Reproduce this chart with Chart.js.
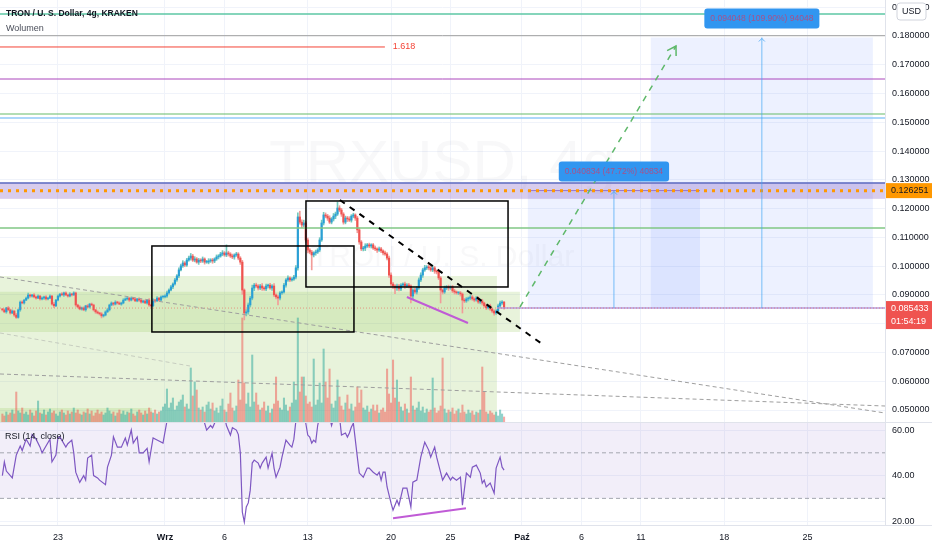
<!DOCTYPE html>
<html>
<head>
<meta charset="utf-8">
<title>TRXUSD 4g</title>
<script src="https://cdn.jsdelivr.net/npm/chart.js@4.4.1/dist/chart.umd.min.js"></script>
<style>
  html, body { margin: 0; padding: 0; background: #fff; }
  #wrap { position: relative; width: 932px; height: 550px; overflow: hidden; }
  #priceCanvas { position: absolute; left: 0; top: 0; }
  #rsiCanvas { position: absolute; left: 0; top: 422px; }
</style>
</head>
<body>
<div id="wrap">
  <canvas id="priceCanvas" width="932" height="422"></canvas>
  <canvas id="rsiCanvas" width="932" height="128"></canvas>
</div>
<script>
// x axis counts 4h candles, candle 0 = 18 Aug 08:00
const dayTicks = [28, 82, 112, 154, 196, 226, 262, 292, 322, 364, 406];
const dayLabels = ['23', 'Wrz', '6', '13', '20', '25', 'Paź', '6', '11', '18', '25'];
const monthLabels = ['Wrz', 'Paź'];
const priceTicks = [0.05, 0.06, 0.07, 0.08, 0.09, 0.10, 0.11, 0.12, 0.13, 0.14, 0.15, 0.16, 0.17, 0.18, 0.19];
const rsiTicks = [20, 40, 60];

// prices in 0.0001 USD
const firstOpen = 850;
const closeE4 = [
  848, 841, 855, 848, 837, 844, 830, 822, 848, 875,
  872, 882, 889, 900, 896, 900, 893, 889, 896, 886,
  889, 893, 886, 889, 896, 868, 862, 882, 896, 903,
  900, 907, 900, 896, 903, 900, 907, 865, 858, 851,
  855, 848, 862, 858, 868, 865, 848, 841, 837, 834,
  827, 830, 841, 848, 865, 872, 868, 875, 872, 868,
  872, 882, 886, 889, 882, 889, 886, 879, 886, 882,
  875, 879, 872, 882, 865, 862, 882, 879, 889, 882,
  893, 893, 896, 907, 917, 928, 938, 952, 966, 987,
  1001, 1011, 1004, 1021, 1028, 1035, 1021, 1025, 1014, 1021,
  1018, 1025, 1014, 1014, 1018, 1021, 1018, 1025, 1032, 1035,
  1042, 1046, 1039, 1046, 1042, 1035, 1032, 1039, 1042, 1028,
  1014, 917, 837, 841, 865, 889, 924, 934, 931, 924,
  931, 924, 921, 931, 934, 924, 931, 900, 893, 889,
  907, 910, 934, 952, 959, 952, 955, 962, 994, 1171,
  1153, 1143, 1150, 1091, 1056, 1049, 1039, 1046, 1049, 1056,
  1091, 1150, 1178, 1174, 1167, 1153, 1164, 1174, 1181, 1202,
  1195, 1181, 1153, 1167, 1164, 1160, 1174, 1178, 1167, 1126,
  1084, 1060, 1063, 1070, 1074, 1070, 1074, 1063, 1060, 1056,
  1060, 1053, 1046, 1042, 1028, 969, 938, 931, 924, 931,
  921, 934, 938, 931, 934, 931, 896, 917, 910, 924,
  952, 969, 987, 994, 997, 994, 987, 994, 983, 980,
  959, 917, 910, 924, 928, 924, 928, 914, 910, 907,
  907, 903, 882, 879, 886, 889, 893, 886, 882, 889,
  875, 879, 872, 862, 855, 862, 851, 844, 837, 844,
  862, 872, 875, 854.33
];
const wickUp = [
  3, 4, 2, 5, 3, 4, 2, 6, 3, 4, 5, 3, 4, 6, 3, 2, 5, 3, 4, 3,
  4, 3, 5, 2, 4, 3, 6, 3, 4, 2, 5, 3, 4, 3, 5, 2, 4, 3, 3, 5,
  3, 4, 2, 5, 3, 4, 3, 2, 4, 3, 5, 3, 4, 6, 3, 4, 2, 5, 3, 4,
  3, 5, 4, 2, 3, 4, 3, 5, 2, 4, 3, 3, 4, 2, 5, 3, 4, 3, 5, 3,
  4, 3, 5, 6, 4, 5, 4, 6, 5, 7, 6, 8, 5, 6, 7, 9, 6, 8, 5, 6,
  5, 7, 4, 6, 8, 5, 6, 4, 7, 5, 6, 8, 5, 28, 6, 5, 7, 4, 6, 5,
  5, 6, 4, 8, 7, 6, 10, 6, 7, 5, 6, 8, 5, 7, 4, 6, 5, 8, 4, 6,
  5, 4, 6, 5, 7, 4, 5, 6, 8, 14, 20, 8, 10, 6, 7, 5, 6, 4, 7, 5,
  8, 10, 9, 7, 6, 8, 5, 9, 7, 21, 8, 6, 5, 7, 6, 8, 5, 6, 4, 6,
  7, 5, 6, 8, 5, 6, 4, 5, 7, 4, 6, 5, 4, 6, 5, 7, 8, 6, 5, 7,
  6, 5, 4, 7, 5, 6, 4, 5, 6, 5, 7, 8, 6, 9, 5, 7, 6, 8, 5, 4,
  6, 5, 4, 7, 5, 6, 4, 5, 6, 4, 3, 5, 4, 6, 5, 4, 7, 5, 4, 6,
  5, 4, 6, 3, 5, 4, 6, 3, 4, 5, 6, 7, 5, 3
];
const wickDn = [
  4, 3, 5, 3, 4, 2, 5, 4, 3, 5, 3, 4, 2, 3, 5, 4, 3, 4, 2, 4,
  3, 5, 4, 3, 2, 4, 6, 3, 3, 4, 2, 5, 3, 4, 3, 4, 2, 5, 4, 3,
  4, 3, 5, 3, 4, 2, 4, 5, 3, 4, 7, 4, 3, 2, 4, 3, 5, 3, 4, 2,
  4, 3, 2, 4, 5, 3, 4, 2, 3, 5, 4, 3, 2, 4, 5, 4, 3, 5, 2, 4,
  3, 4, 3, 5, 4, 3, 6, 4, 5, 6, 4, 5, 6, 5, 4, 7, 5, 6, 4, 8,
  6, 5, 7, 4, 6, 5, 8, 6, 5, 7, 4, 6, 5, 6, 7, 5, 6, 8, 5, 6,
  8, 15, 24, 10, 8, 7, 6, 9, 5, 7, 6, 8, 5, 6, 7, 5, 8, 6, 7, 24,
  6, 5, 4, 7, 5, 6, 4, 5, 6, 8, 7, 9, 6, 8, 10, 6, 52, 7, 8, 5,
  6, 5, 7, 6, 8, 5, 6, 7, 9, 5, 6, 8, 7, 6, 9, 5, 7, 6, 8, 10,
  8, 6, 7, 9, 5, 6, 7, 5, 6, 8, 5, 6, 7, 5, 6, 8, 7, 9, 20, 8,
  7, 6, 5, 8, 6, 7, 24, 9, 6, 7, 5, 6, 8, 5, 6, 7, 5, 6, 8, 7,
  6, 45, 7, 5, 6, 8, 5, 6, 7, 5, 6, 7, 45, 6, 5, 7, 6, 5, 6, 4,
  5, 6, 7, 5, 6, 4, 5, 6, 7, 5, 4, 6, 5, 4
];
// volume in millions of TRX
const volume = [
  8, 6, 10, 7, 9, 12, 8, 30, 11, 9, 14, 8, 10, 7, 12, 9, 6, 11, 21, 9,
  8, 12, 7, 10, 13, 9, 11, 8, 6, 10, 12, 9, 7, 11, 8, 10, 14, 9, 12, 8,
  7, 10, 9, 13, 8, 11, 6, 9, 12, 8, 10, 7, 9, 14, 11, 8, 10, 6, 9, 12,
  8, 11, 7, 10, 9, 13, 8, 6, 10, 12, 9, 7, 11, 8, 14, 10, 9, 12, 8, 10,
  11, 15, 18, 33, 14, 19, 24, 12, 16, 20, 22, 27, 15, 18, 13, 54, 26, 40, 32, 14,
  12, 15, 10, 17, 20, 13, 19, 11, 14, 9, 16, 23, 12, 10, 18, 29, 14, 11, 16, 42,
  22, 104, 39, 18, 29, 15, 67, 20, 29, 17, 12, 14, 20, 11, 16, 9, 13, 18, 45, 21,
  14, 12, 24, 17, 11, 15, 19, 40, 22, 104, 30, 45, 45, 26, 18, 20, 15, 63, 17, 22,
  39, 19, 73, 40, 24, 53, 18, 14, 21, 42, 25, 16, 12, 19, 27, 13, 18, 11, 15, 35,
  19, 32, 14, 12, 16, 10, 13, 17, 11, 17, 9, 12, 14, 10, 53, 28, 19, 62, 24, 42,
  20, 15, 11, 18, 13, 9, 45, 16, 12, 14, 20, 11, 15, 9, 13, 10, 12, 44, 14, 9,
  11, 16, 64, 13, 9, 12, 10, 14, 8, 11, 13, 9, 17, 10, 8, 12, 9, 11, 7, 10,
  9, 12, 55, 30, 10, 8, 11, 9, 7, 10, 6, 12, 8, 5
];
// [candle, RSI]
const rsiPoints = [
  [0, 40], [1, 46], [2, 42], [4, 40], [5, 39], [7, 49], [9, 53], [10, 51], [12, 56], [14, 53],
  [15, 58], [17, 56], [19, 52.5], [20, 50], [22, 53], [24, 56], [25, 46], [27, 49], [28, 56.5], [29, 57],
  [32, 52.5], [33, 54], [35, 55.6], [36, 50], [37, 41.5], [39, 37], [41, 40], [42, 38], [43, 47.7], [45, 49],
  [46, 40], [48, 39], [49, 38], [52, 36], [53, 43.7], [55, 49], [56, 57], [58, 52.5], [60, 52.5], [62, 56.5],
  [63, 53.4], [65, 60], [66, 54.3], [68, 57], [69, 50], [71, 50], [73, 52], [74, 46], [76, 56.5], [78, 55.6],
  [81, 54.3], [83, 64], [84, 68], [86, 72], [88, 78], [90, 82], [92, 78], [94, 80], [96, 74], [98, 70],
  [100, 68], [101, 66], [103, 60], [105, 62], [106, 61], [108, 65], [110, 68], [112, 66], [113, 62], [115, 57.8],
  [116, 61], [118, 60], [119, 58], [120, 50], [121, 24], [122, 19.6], [123, 26.2], [124, 28], [125, 33.6], [126, 45.5],
  [127, 46.8], [129, 45.5], [130, 43.3], [131, 45.5], [133, 48.1], [134, 43.3], [136, 49.9], [137, 43.3], [138, 39.3], [140, 43.7],
  [141, 48.1], [143, 55.6], [145, 53.4], [146, 52.5], [147, 56], [148, 64], [149, 82], [150, 76], [151, 72], [152, 70],
  [153, 63], [154, 57.8], [155, 56.9], [156, 54.3], [157, 55.6], [158, 54.7], [159, 62], [160, 66], [161, 72], [162, 75],
  [163, 73], [164, 70], [165, 66], [166, 62], [167, 65], [168, 66], [169, 70], [170, 66], [171, 57.8], [173, 58.7],
  [174, 56.9], [175, 58.7], [176, 61.3], [177, 63], [179, 48.1], [180, 41.1], [182, 39.3], [184, 43.3], [185, 43.3], [187, 41.5],
  [189, 40.2], [190, 41.5], [191, 38], [192, 41.5], [193, 41.5], [194, 35], [196, 27.9], [197, 24.8], [199, 29.2], [200, 27],
  [202, 34.5], [204, 34.5], [206, 26.2], [207, 37.1], [209, 38], [211, 48.1], [213, 54.7], [215, 51.2], [216, 48.1], [218, 52.5],
  [219, 48.1], [222, 38], [224, 41.1], [226, 38], [227, 39.3], [229, 38], [231, 39.3], [232, 27], [234, 41.1], [236, 39.3],
  [237, 43.7], [239, 44.6], [241, 41.1], [242, 36.7], [243, 38], [244, 35], [246, 36.7], [248, 32.3], [249, 43.3], [251, 48.1],
  [252, 43.7], [253, 42.4]
];

const lastPrice = 0.085433;
const target1 = 0.040834;
const target2 = 0.094048;

// ---- view ----
const X_MIN = -1.2, X_MAX = 445.1;
const P_MIN = 0.04583, P_MAX = 0.19251;
const R_MIN = 18.3, R_MAX = 63.1;
const FONT = "'Liberation Sans', Arial, sans-serif";
const UP = '#2a9fd6', DOWN = '#ef5350', UP_WICK = '#74c9bc', DOWN_WICK = '#f29c99';
const GREEN_ZONE = 'rgba(139,195,74,0.2)', BLUE_ZONE = 'rgba(41,98,255,0.085)';

Chart.defaults.font.family = FONT;
Chart.defaults.font.size = 9;
Chart.defaults.color = '#131722';

const candles = closeE4.map((c, i) => {
  const o = i ? closeE4[i - 1] : firstOpen;
  return {
    o: o / 1e4,
    c: c / 1e4,
    h: (Math.max(o, c) + (wickUp[i] || 0)) / 1e4,
    l: (Math.min(o, c) - (wickDn[i] || 0)) / 1e4
  };
});
const isUp = candles.map(k => k.c >= k.o);

// drawings, in chart units
const zones = [
  { from: X_MIN, to: 249.4, lo: P_MIN, hi: 0.09658, fill: GREEN_ZONE },
  { from: X_MIN, to: 261, lo: 0.07712, hi: 0.0911, fill: GREEN_ZONE },
  { from: X_MIN, to: 75.4, lo: P_MIN, hi: 0.0507, fill: GREEN_ZONE },
  { from: 265, to: 351.8, lo: lastPrice, hi: lastPrice + target1, fill: BLUE_ZONE },
  { from: 327, to: 439, lo: lastPrice, hi: lastPrice + target2, fill: BLUE_ZONE },
  { from: X_MIN, to: X_MAX, lo: 0.1234, hi: 0.129, fill: 'rgba(126,87,194,0.3)' }
];
const levels = [
  { p: 0.18765, color: '#5cc7a5', w: 1.5 },
  { p: 0.1801, color: '#9e9e9e', w: 1 },
  { p: 0.17618, color: '#f44336', w: 1, to: 192.9 },
  { p: 0.16505, color: '#ab47bc', w: 1 },
  { p: 0.15289, color: '#66bb6a', w: 1.2 },
  { p: 0.1515, color: '#90caf9', w: 1.5 },
  { p: 0.1289, color: '#5c6bc0', w: 1.5 },
  { p: 0.11329, color: '#81c784', w: 1.5 },
  { p: lastPrice, color: '#b39ddb', w: 1.5, from: 249.4 },
  { p: lastPrice, color: 'rgba(239,83,80,0.55)', w: 1, dash: [1, 2] },
  { p: lastPrice + target1, color: '#9575cd', w: 1, from: 265, to: 351.8 },
  { p: 0.126251, color: '#ff9800', w: 3, dash: [3, 5] }
];
const trends = [
  { a: [X_MIN, 0.09624], b: [X_MAX, 0.04896], color: '#9e9e9e', w: 1, dash: [4, 3] },
  { a: [X_MIN, 0.06252], b: [X_MAX, 0.05139], color: '#9e9e9e', w: 1, dash: [4, 3] },
  { a: [X_MIN, 0.07677], b: [94.6, 0.0653], color: 'rgba(158,158,158,0.45)', w: 1, dash: [4, 3] },
  { a: [170.2, 0.123], b: [273.6, 0.07225], color: '#000000', w: 2, dash: [6, 6] },
  { a: [204, 0.08928], b: [234.8, 0.08024], color: '#c05bd6', w: 2 },
  { a: [261, 0.0858], b: [339.7, 0.17652], color: '#5fb86a', w: 1.5, dash: [6, 6], arrow: true }
];
const boxes = [
  { from: 75.4, to: 177.3, lo: 0.07712, hi: 0.10701 },
  { from: 153.1, to: 255, lo: 0.09276, hi: 0.12265 }
];
const measures = [
  { at: 308.4, lo: lastPrice, hi: lastPrice + target1, text: '0.040834 (47.72%) 40834' },
  { at: 383, lo: lastPrice, hi: lastPrice + target2, text: '0.094048 (109.90%) 94048' }
];

function stroke(ctx, pts, color, width, dash) {
  ctx.save();
  ctx.strokeStyle = color;
  ctx.lineWidth = width;
  ctx.setLineDash(dash || []);
  ctx.beginPath();
  pts.forEach((p, k) => k ? ctx.lineTo(p[0], p[1]) : ctx.moveTo(p[0], p[1]));
  ctx.stroke();
  ctx.restore();
}

function roundRect(ctx, x, y, w, h, r) {
  ctx.beginPath();
  ctx.moveTo(x + r, y);
  ctx.arcTo(x + w, y, x + w, y + h, r);
  ctx.arcTo(x + w, y + h, x, y + h, r);
  ctx.arcTo(x, y + h, x, y, r);
  ctx.arcTo(x, y, x + w, y, r);
  ctx.closePath();
}

const pricePane = {
  id: 'pricePane',
  beforeDatasetsDraw(chart) {
    const { ctx, chartArea: a, scales: { x, y } } = chart;
    ctx.save();
    ctx.beginPath();
    ctx.rect(a.left, a.top, a.width, a.height);
    ctx.clip();
    // watermark
    const cx = (a.left + a.right) / 2, cy = (a.top + a.bottom) / 2;
    ctx.fillStyle = 'rgba(120,123,134,0.05)';
    ctx.textAlign = 'center';
    ctx.textBaseline = 'middle';
    ctx.font = '60px ' + FONT;
    ctx.fillText('TRXUSD, 4g', cx, cy - 46);
    ctx.font = '30px ' + FONT;
    ctx.fillText('TRON / U. S. Dollar', cx, cy + 47);
    zones.forEach(z => {
      const x1 = x.getPixelForValue(z.from), x2 = x.getPixelForValue(z.to);
      const y1 = y.getPixelForValue(z.hi), y2 = y.getPixelForValue(z.lo);
      ctx.fillStyle = z.fill;
      ctx.fillRect(x1, y1, x2 - x1, y2 - y1);
    });
    ctx.restore();
  },
  afterDatasetsDraw(chart) {
    const { ctx, chartArea: a, scales: { x, y } } = chart;
    ctx.save();
    ctx.beginPath();
    ctx.rect(a.left, a.top, a.width, a.height);
    ctx.clip();

    levels.forEach(l => {
      const py = y.getPixelForValue(l.p);
      const x1 = x.getPixelForValue(l.from ?? X_MIN), x2 = x.getPixelForValue(l.to ?? X_MAX);
      stroke(ctx, [[x1, py], [x2, py]], l.color, l.w, l.dash);
    });

    // fib label
    ctx.fillStyle = '#f44336';
    ctx.font = '9px ' + FONT;
    ctx.textAlign = 'left';
    ctx.textBaseline = 'middle';
    ctx.fillText('1.618', x.getPixelForValue(196.8), y.getPixelForValue(0.17618));

    // measure lines
    measures.forEach(m => {
      const px = x.getPixelForValue(m.at);
      const top = y.getPixelForValue(m.hi), bot = y.getPixelForValue(m.lo);
      stroke(ctx, [[px, bot], [px, top]], 'rgba(66,165,245,0.7)', 1);
      stroke(ctx, [[px - 3, top + 4], [px, top + 1], [px + 3, top + 4]], 'rgba(66,165,245,0.8)', 1);
    });

    trends.forEach(t => {
      const x1 = x.getPixelForValue(t.a[0]), y1 = y.getPixelForValue(t.a[1]);
      const x2 = x.getPixelForValue(t.b[0]), y2 = y.getPixelForValue(t.b[1]);
      stroke(ctx, [[x1, y1], [x2, y2]], t.color, t.w, t.dash);
      if (t.arrow) {
        const ang = Math.atan2(y2 - y1, x2 - x1) + Math.PI;
        stroke(ctx, [[x2 + 10 * Math.cos(ang - 0.55), y2 + 10 * Math.sin(ang - 0.55)], [x2, y2],
          [x2 + 10 * Math.cos(ang + 0.55), y2 + 10 * Math.sin(ang + 0.55)]], t.color, t.w);
      }
    });

    boxes.forEach(b => {
      const x1 = x.getPixelForValue(b.from), x2 = x.getPixelForValue(b.to);
      const y1 = y.getPixelForValue(b.hi), y2 = y.getPixelForValue(b.lo);
      ctx.strokeStyle = '#000';
      ctx.lineWidth = 1.5;
      ctx.strokeRect(x1, y1, x2 - x1, y2 - y1);
    });

    // measure labels
    ctx.font = '8.5px ' + FONT;
    ctx.textAlign = 'center';
    measures.forEach(m => {
      const px = x.getPixelForValue(m.at);
      const top = y.getPixelForValue(m.hi);
      const w = ctx.measureText(m.text).width + 12;
      ctx.fillStyle = '#3196f0';
      roundRect(ctx, px - w / 2, top - 29, w, 20, 3);
      ctx.fill();
      ctx.fillStyle = '#a5538c';
      ctx.fillText(m.text, px, top - 19);
    });
    ctx.restore();
  },
  afterDraw(chart) {
    const { ctx, scales: { y } } = chart;
    ctx.save();
    ctx.textBaseline = 'middle';
    ctx.textAlign = 'left';
    // orange level tag
    const yo = y.getPixelForValue(0.126251);
    ctx.fillStyle = '#ff9800';
    ctx.fillRect(886, yo - 7.5, 46, 15);
    ctx.fillStyle = '#131722';
    ctx.font = '9px ' + FONT;
    ctx.fillText('0.126251', 891, yo);
    // last price tag
    const yl = y.getPixelForValue(lastPrice);
    ctx.fillStyle = '#ef5350';
    ctx.fillRect(886, yl - 7, 46, 28);
    ctx.fillStyle = '#ffffff';
    ctx.fillText(lastPrice.toFixed(6), 891, yl + 0.5);
    ctx.fillText('01:54:19', 891, yl + 13.5);
    // currency badge
    ctx.fillStyle = '#ffffff';
    roundRect(ctx, 897, 3, 29, 17, 3);
    ctx.fill();
    ctx.strokeStyle = '#d1d4dc';
    ctx.lineWidth = 1;
    ctx.stroke();
    ctx.fillStyle = '#131722';
    ctx.textAlign = 'center';
    ctx.fillText('USD', 911.5, 12);
    // legend
    ctx.textAlign = 'left';
    ctx.font = 'bold 8.5px ' + FONT;
    ctx.fillText('TRON / U. S. Dollar, 4g, KRAKEN', 6, 14);
    ctx.font = '9px ' + FONT;
    ctx.fillStyle = '#4a4e5a';
    ctx.fillText('Wolumen', 6, 29);
    ctx.restore();
  }
};

const rsiPane = {
  id: 'rsiPane',
  beforeDatasetsDraw(chart) {
    const { ctx, chartArea: a, scales: { y } } = chart;
    ctx.save();
    const y30 = y.getPixelForValue(30);
    const top = Math.max(a.top, y.getPixelForValue(70));
    ctx.fillStyle = 'rgba(126,87,194,0.1)';
    ctx.fillRect(a.left, top, a.width, y30 - top);
    [50, 30].forEach(v => {
      const py = y.getPixelForValue(v);
      stroke(ctx, [[a.left, py], [a.right, py]], '#a3a6af', 1, [4, 3]);
    });
    ctx.restore();
  },
  afterDatasetsDraw(chart) {
    const { ctx, scales: { x, y } } = chart;
    stroke(ctx, [[x.getPixelForValue(197), y.getPixelForValue(21.3)],
      [x.getPixelForValue(233.8), y.getPixelForValue(25.7)]], '#c05bd6', 2);
  },
  afterDraw(chart) {
    const { ctx, chartArea: a } = chart;
    ctx.save();
    stroke(ctx, [[0, 0.5], [932, 0.5]], '#e0e3eb', 1);
    stroke(ctx, [[0, a.bottom + 0.5], [932, a.bottom + 0.5]], '#e0e3eb', 1);
    ctx.fillStyle = '#131722';
    ctx.font = '9px ' + FONT;
    ctx.textAlign = 'left';
    ctx.textBaseline = 'middle';
    ctx.fillText('RSI (14, close)', 5, 15);
    ctx.restore();
  }
};

const noPad = s => { s.paddingTop = 0; s.paddingBottom = 0; s.paddingLeft = 0; s.paddingRight = 0; };

new Chart(document.getElementById('priceCanvas'), {
  type: 'bar',
  data: {
    datasets: [
      {
        yAxisID: 'yv', order: 3, grouped: false, barThickness: 1.4,
        data: volume.map((v, i) => ({ x: i, y: v })),
        backgroundColor: isUp.map(u => u ? 'rgba(38,166,154,0.5)' : 'rgba(239,83,80,0.5)')
      },
      {
        yAxisID: 'y', order: 2, grouped: false, barThickness: 1,
        data: candles.map((k, i) => ({ x: i, y: [k.l, k.h] })),
        backgroundColor: isUp.map(u => u ? UP_WICK : DOWN_WICK)
      },
      {
        yAxisID: 'y', order: 1, grouped: false, barThickness: 1.5, minBarLength: 1,
        data: candles.map((k, i) => ({ x: i, y: [k.o, k.c] })),
        backgroundColor: isUp.map(u => u ? UP : DOWN)
      }
    ]
  },
  options: {
    responsive: false,
    animation: false,
    devicePixelRatio: 1,
    events: [],
    layout: { padding: 0 },
    plugins: { legend: { display: false }, tooltip: { enabled: false } },
    scales: {
      x: {
        type: 'linear', min: X_MIN, max: X_MAX, offset: false,
        afterBuildTicks: s => { s.ticks = dayTicks.map(v => ({ value: v })); },
        afterFit: s => { s.height = 0; noPad(s); },
        ticks: { display: false },
        grid: { color: '#f0f3fa', drawTicks: false, offset: false },
        border: { display: false }
      },
      y: {
        position: 'right', min: P_MIN, max: P_MAX,
        afterBuildTicks: s => { s.ticks = priceTicks.map(v => ({ value: v })); },
        afterFit: s => { s.width = 47; noPad(s); },
        ticks: { padding: 7, color: '#131722', font: { size: 9 }, callback: v => v.toFixed(6) },
        grid: { color: '#f0f3fa', drawTicks: false },
        border: { color: '#e0e3eb' }
      },
      yv: { display: false, min: 0, max: 422 }
    }
  },
  plugins: [pricePane]
});

new Chart(document.getElementById('rsiCanvas'), {
  type: 'line',
  data: {
    datasets: [{
      data: rsiPoints.map(p => ({ x: p[0], y: p[1] })),
      borderColor: '#7e57c2', borderWidth: 1.2, pointRadius: 0, tension: 0
    }]
  },
  options: {
    responsive: false,
    animation: false,
    devicePixelRatio: 1,
    events: [],
    layout: { padding: { top: 1 } },
    plugins: { legend: { display: false }, tooltip: { enabled: false } },
    scales: {
      x: {
        type: 'linear', min: X_MIN, max: X_MAX, offset: false,
        afterBuildTicks: s => { s.ticks = dayTicks.map(v => ({ value: v })); },
        afterFit: s => { s.height = 25; noPad(s); },
        ticks: {
          padding: 7, autoSkip: false, maxRotation: 0, color: '#131722',
          font: c => ({ size: 9, weight: monthLabels.includes(dayLabels[c.index]) ? 'bold' : 'normal' }),
          callback: v => dayLabels[dayTicks.indexOf(v)] ?? ''
        },
        grid: { color: '#f0f3fa', drawTicks: false, offset: false },
        border: { color: '#e0e3eb' }
      },
      y: {
        position: 'right', min: R_MIN, max: R_MAX,
        afterBuildTicks: s => { s.ticks = rsiTicks.map(v => ({ value: v })); },
        afterFit: s => { s.width = 47; noPad(s); },
        ticks: { padding: 7, color: '#131722', font: { size: 9 }, callback: v => v.toFixed(2) },
        grid: { color: '#f0f3fa', drawTicks: false },
        border: { color: '#e0e3eb' }
      }
    }
  },
  plugins: [rsiPane]
});
</script>
</body>
</html>
